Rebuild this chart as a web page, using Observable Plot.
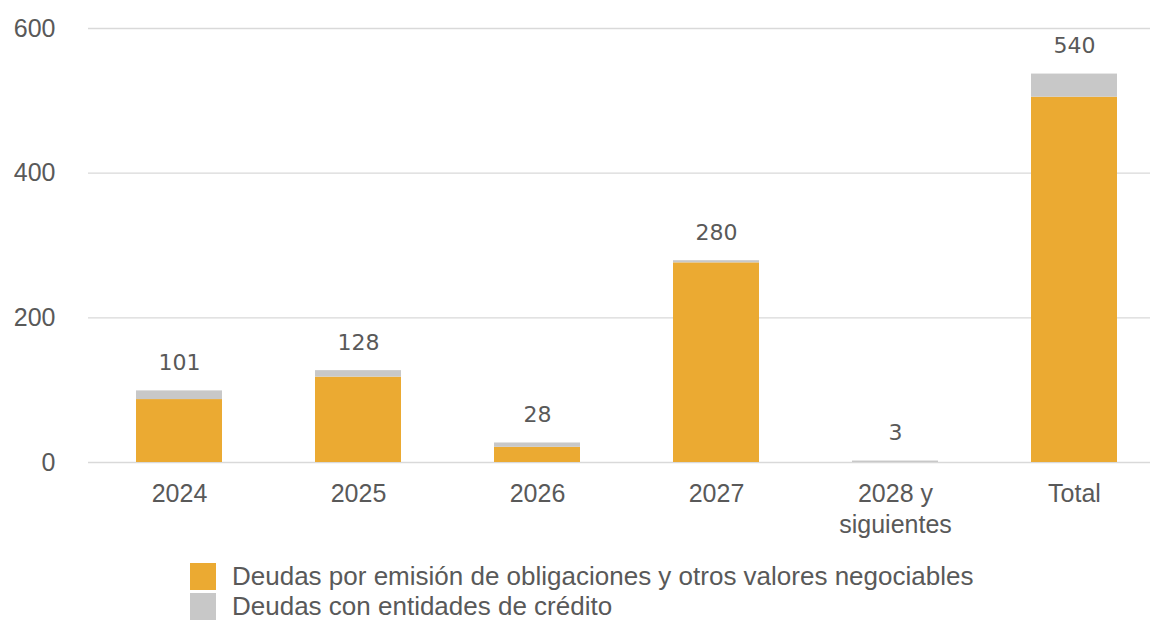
<!DOCTYPE html>
<html>
<head>
<meta charset="utf-8">
<script src="https://cdn.jsdelivr.net/npm/d3@7"></script>
<script src="https://cdn.jsdelivr.net/npm/@observablehq/plot@0.6"></script>
<style>
  html, body { margin: 0; padding: 0; background: #fff; }
  #chart svg { display: block; }
  .legend { margin-left: 190px; margin-top: 9px; font-family: "Liberation Sans", Arial, sans-serif; font-size: 26px; color: #595959; }
  .legend .row { display: flex; align-items: center; height: 30px; white-space: nowrap; }
  .legend .row span { line-height: 26px; }
  .legend .sw { width: 26px; height: 27px; margin-right: 16px; flex: none; }
</style>
</head>
<body>
<div id="chart"></div>
<div class="legend" id="legend"></div>
<script>
const categories = ["2024", "2025", "2026", "2027", "2028 y siguientes", "Total"];
const tickLabels = ["2024", "2025", "2026", "2027", "2028 y\nsiguientes", "Total"];
const seriesNames = ["Deudas por emisión de obligaciones y otros valores negociables", "Deudas con entidades de crédito"];
const seriesColors = ["#EBAA32", "#C8C8C8"];
const bonds = [87, 118, 21, 276, 0, 505];
const banks = [12, 9, 6, 3, 2, 32];
const totalLabels = [101, 128, 28, 280, 3, 540];
const yTicks = [0, 200, 400, 600];

const rows = [];
categories.forEach((c, i) => {
  rows.push({cat: c, series: seriesNames[0], value: bonds[i]});
  rows.push({cat: c, series: seriesNames[1], value: banks[i]});
});
const totals = categories.map((c, i) => ({cat: c, top: bonds[i] + banks[i], label: String(totalLabels[i])}));
const tickMap = new Map(categories.map((c, i) => [c, tickLabels[i]]));

const chart = Plot.plot({
  width: 1150,
  height: 552,
  marginLeft: 88,
  marginRight: 0,
  marginTop: 28,
  marginBottom: 90,
  style: {fontFamily: "'Liberation Sans', Arial, sans-serif", color: "#595959", background: "#fff"},
  x: {domain: categories, range: [88, 1164], paddingInner: 0.52, paddingOuter: 0.26},
  y: {domain: [0, 600]},
  color: {domain: seriesNames, range: seriesColors},
  marks: [
    Plot.ruleY(yTicks, {stroke: "#D9D9D9", strokeWidth: 1.3}),
    Plot.barY(rows, {x: "cat", y: "value", fill: "series", order: seriesNames}),
    Plot.text(totals, {x: "cat", y: "top", text: "label", dy: -28, fontSize: 22, fill: "#595959", fontFamily: "'DejaVu Sans', Verdana, sans-serif"}),
    Plot.axisY({ticks: yTicks, tickSize: 0, tickPadding: 33, fontSize: 25, label: null, fill: "#595959"}),
    Plot.axisX({tickSize: 0, tickPadding: 17, fontSize: 25, label: null, lineHeight: 1.25, tickFormat: d => tickMap.get(d), fill: "#595959"})
  ]
});
document.getElementById("chart").appendChild(chart);

const legend = document.getElementById("legend");
seriesNames.forEach((n, i) => {
  const r = document.createElement("div");
  r.className = "row";
  const s = document.createElement("div");
  s.className = "sw";
  s.style.background = seriesColors[i];
  const t = document.createElement("span");
  t.textContent = n;
  r.appendChild(s); r.appendChild(t);
  legend.appendChild(r);
});
</script>
</body>
</html>
